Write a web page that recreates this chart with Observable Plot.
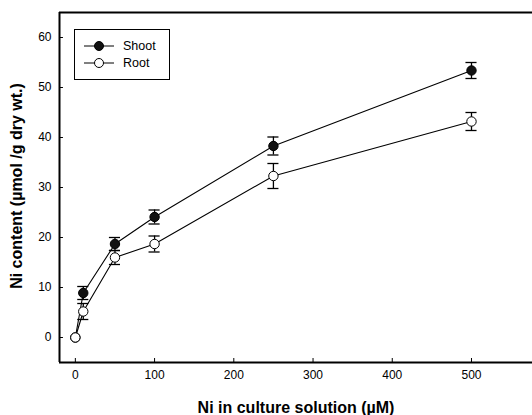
<!DOCTYPE html>
<html>
<head>
<meta charset="utf-8">
<script src="https://cdn.jsdelivr.net/npm/d3@7"></script>
<script src="https://cdn.jsdelivr.net/npm/@observablehq/plot@0.6"></script>
<style>
  body { margin: 0; background: #fff; }
  #wrap { position: relative; width: 532px; height: 415px; font-family: "Liberation Sans", Arial, sans-serif; }
  #legend { position: absolute; left: 74px; top: 29px; width: 96px; height: 51px; border: 1px solid #000; box-sizing: border-box; background: #fff; font-size: 12.5px; }
  .row { position: absolute; left: 9px; height: 16px; display: flex; align-items: center; }
  .row svg { margin-right: 9px; }
</style>
</head>
<body>
<div id="wrap"></div>
<script>
const concentration = [0, 10, 50, 100, 250, 500];
const shootMean = [0, 8.9, 18.7, 24.1, 38.3, 53.4];
const shootErr  = [0, 1.3, 1.3, 1.4, 1.8, 1.6];
const rootMean  = [0, 5.2, 16.0, 18.7, 32.3, 43.2];
const rootErr   = [0, 1.6, 1.4, 1.6, 2.5, 1.8];
const xTicks = [0, 100, 200, 300, 400, 500];
const yTicks = [0, 10, 20, 30, 40, 50, 60];

const shoot = concentration.map((c, i) => ({x: c, y: shootMean[i], e: shootErr[i]}));
const root = concentration.map((c, i) => ({x: c, y: rootMean[i], e: rootErr[i]}));
const withErr = d => d.filter(p => p.e > 0);

const xMin = -20, xMax = 577, yMin = -5, yMax = 65;
const capHalf = 7;

function errMarks(data) {
  const d = withErr(data);
  return [
    Plot.ruleX(d, {x: "x", y1: p => p.y - p.e, y2: p => p.y + p.e, stroke: "#000", strokeWidth: 1.3}),
    Plot.ruleY(d, {y: p => p.y - p.e, x1: p => p.x - capHalf, x2: p => p.x + capHalf, stroke: "#000", strokeWidth: 1.3}),
    Plot.ruleY(d, {y: p => p.y + p.e, x1: p => p.x - capHalf, x2: p => p.x + capHalf, stroke: "#000", strokeWidth: 1.3})
  ];
}

const chart = Plot.plot({
  width: 532,
  height: 415,
  marginLeft: 59,
  marginRight: 0,
  marginTop: 12,
  marginBottom: 53,
  style: {fontFamily: "'Liberation Sans', Arial, sans-serif", fontSize: "12px", color: "#000", background: "#fff"},
  x: {domain: [xMin, xMax]},
  y: {domain: [yMin, yMax]},
  marks: [
    Plot.axisX(xTicks, {tickSize: 0, tickPadding: 8, fontSize: 12, label: null}),
    Plot.axisY(yTicks, {tickSize: 0, tickPadding: 8, fontSize: 12, label: null}),
    Plot.ruleY(yTicks, {x1: xMin, x2: xMin + 5, stroke: "#000", strokeWidth: 1}),
    Plot.ruleX(xTicks, {y1: yMin, y2: yMin + 0.8, stroke: "#000", strokeWidth: 1}),
    Plot.ruleX([xMin], {stroke: "#000", strokeWidth: 2}),
    Plot.ruleY([yMin], {stroke: "#000", strokeWidth: 2}),
    Plot.ruleY([yMax], {stroke: "#000", strokeWidth: 2}),
    Plot.line(shoot, {x: "x", y: "y", stroke: "#000", strokeWidth: 1.1}),
    Plot.line(root, {x: "x", y: "y", stroke: "#000", strokeWidth: 1.1}),
    ...errMarks(shoot),
    ...errMarks(root),
    Plot.dot(shoot, {x: "x", y: "y", r: 4.7, fill: "#111", stroke: "#000", strokeWidth: 1}),
    Plot.dot(root, {x: "x", y: "y", r: 4.7, fill: "#fff", stroke: "#000", strokeWidth: 1})
  ]
});

const wrap = document.getElementById("wrap");
wrap.appendChild(chart);

// axis titles
const svg = d3.select(chart);
svg.append("text")
  .attr("x", 296).attr("y", 413)
  .attr("text-anchor", "middle")
  .attr("font-weight", "bold").attr("font-size", 16)
  .attr("font-family", "'Liberation Sans', Arial, sans-serif")
  .text("Ni in culture solution (µM)");
svg.append("text")
  .attr("transform", "translate(22,186) rotate(-90)")
  .attr("text-anchor", "middle")
  .attr("font-weight", "bold").attr("font-size", 16)
  .attr("font-family", "'Liberation Sans', Arial, sans-serif")
  .text("Ni content (µmol /g dry wt.)");

// legend
const legendItems = [{label: "Shoot", fill: "#111"}, {label: "Root", fill: "#fff"}];
const legend = document.createElement("div");
legend.id = "legend";
legendItems.forEach((it, i) => {
  const row = document.createElement("div");
  row.className = "row";
  row.style.top = (8 + i * 17) + "px";
  row.innerHTML = `<svg width="30" height="12"><line x1="0" y1="6" x2="30" y2="6" stroke="#000" stroke-width="1"/><circle cx="15" cy="6" r="4.5" fill="${it.fill}" stroke="#000"/></svg><span>${it.label}</span>`;
  legend.appendChild(row);
});
wrap.appendChild(legend);
</script>
</body>
</html>
